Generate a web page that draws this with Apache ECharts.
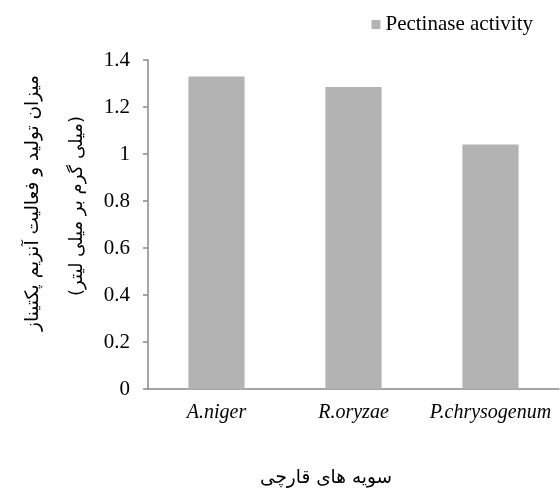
<!DOCTYPE html>
<html><head><meta charset="utf-8">
<script src="https://cdn.jsdelivr.net/npm/echarts@6/dist/echarts.min.js"></script>
<style>html,body{margin:0;padding:0;background:#fff}#c{width:560px;height:488px}</style>
</head><body><div id="c"></div>
<script>
var categories = ['A.niger', 'R.oryzae', 'P.chrysogenum'];
var pectinase = [1.33, 1.285, 1.04];
var yTicks = [0, 0.2, 0.4, 0.6, 0.8, 1, 1.2, 1.4];
var seriesName = 'Pectinase activity';
var yTitle1 = 'میزان تولید و فعالیت آنزیم پکتیناز';
var yTitle2 = '(میلی گرم بر میلی لیتر)';
var xTitle = 'سویه های قارچی';

var chart = echarts.init(document.getElementById('c'));
var serif = '"Liberation Serif", "DejaVu Serif", serif';
var arab = '"DejaVu Sans", "Noto Sans", sans-serif';
chart.setOption({
  animation: false,
  legend: {
    data: [seriesName], right: 22, top: 9, itemWidth: 9, itemHeight: 9, itemGap: 6,
    icon: 'rect',
    textStyle: { fontFamily: serif, fontSize: 21, color: '#000' }
  },
  grid: { left: 148, right: 1, top: 60, bottom: 99, containLabel: false },
  xAxis: {
    type: 'category', data: categories,
    axisLine: { lineStyle: { color: '#888', width: 1.5 } },
    axisTick: { show: false },
    axisLabel: { interval: 0, hideOverlap: false, fontFamily: serif, fontStyle: 'italic', fontSize: 20, color: '#000', margin: 14 }
  },
  yAxis: {
    type: 'value', min: 0, max: 1.4, interval: 0.2,
    axisLine: { show: true, lineStyle: { color: '#888', width: 1.5 } },
    axisTick: { show: true, length: 5, lineStyle: { color: '#888', width: 1.5 } },
    splitLine: { show: false },
    axisLabel: { fontFamily: serif, fontSize: 21, color: '#000', margin: 18,
      formatter: function (v) { return String(Math.round(v * 10) / 10); } }
  },
  series: [{
    name: seriesName, type: 'bar', data: pectinase, barWidth: '41%',
    itemStyle: { color: '#b3b3b3' }
  }],
  graphic: [
    { type: 'text', x: 33, y: 203, rotation: Math.PI / 2,
      style: { text: yTitle1, fontFamily: arab, fontSize: 18.5, fill: '#000', align: 'center', verticalAlign: 'middle' } },
    { type: 'text', x: 77, y: 206, rotation: Math.PI / 2,
      style: { text: yTitle2, fontFamily: arab, fontSize: 18, fill: '#000', align: 'center', verticalAlign: 'middle' } },
    { type: 'text', x: 326, y: 478,
      style: { text: xTitle, fontFamily: arab, fontSize: 18.5, fill: '#000', align: 'center', verticalAlign: 'middle' } }
  ]
});
</script></body></html>
